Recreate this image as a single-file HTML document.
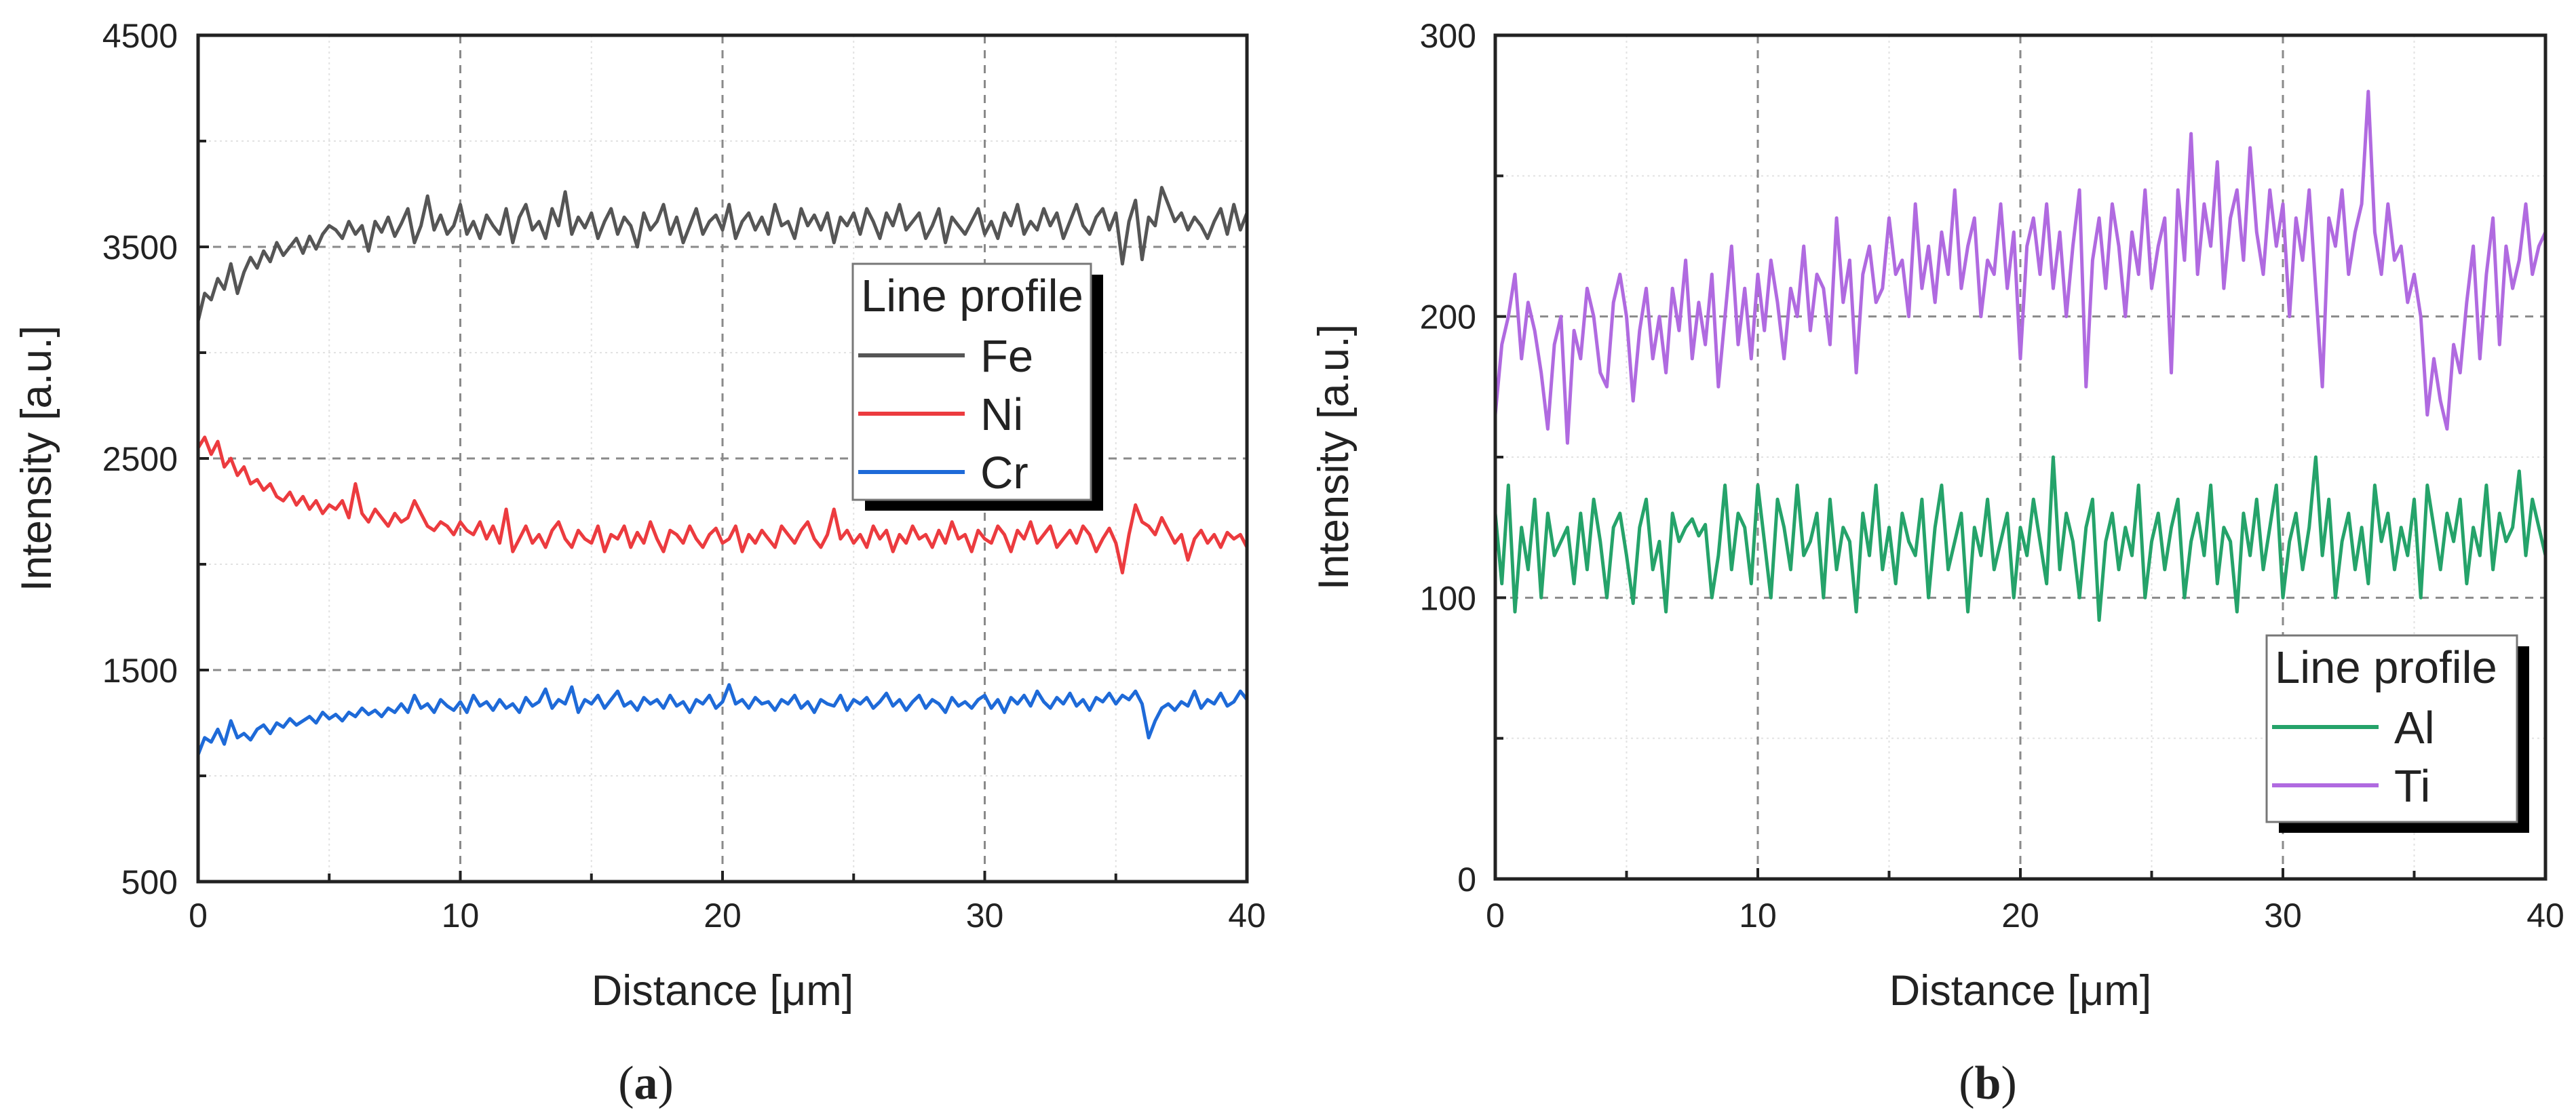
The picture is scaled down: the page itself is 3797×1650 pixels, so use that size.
<!DOCTYPE html>
<html><head><meta charset="utf-8"><style>
html,body{margin:0;padding:0;background:#fff;}
svg{display:block;}
text{font-family:"Liberation Sans",sans-serif;fill:#222;}
</style></head><body>
<svg id="fig" width="3797" height="1650" viewBox="0 0 3797 1650" xmlns="http://www.w3.org/2000/svg">
<rect x="0" y="0" width="3797" height="1650" fill="#fff"/>
</svg>
<script>
// ---- data ----
const xStep = 0.25;
const xTicksLabels = ["0","10","20","30","40"];
const xTickValues = [0,10,20,30,40];
const yTicksA = [500,1500,2500,3500,4500];
const yTicksB = [0,100,200,300];
const feValues = [3150,3280,3250,3350,3300,3420,3280,3380,3450,3400,3480,3430,3520,3460,3500,3540,3470,3550,3490,3560,3600,
3580,3540,3620,3560,3600,3480,3620,3570,3640,3550,3610,3680,3520,3600,3740,3580,3650,3560,3600,3700,
3560,3620,3540,3650,3600,3560,3680,3520,3640,3700,3580,3620,3540,3680,3600,3760,3560,3640,3590,3660,
3540,3620,3680,3560,3640,3600,3500,3660,3580,3620,3700,3560,3640,3520,3600,3680,3560,3620,3650,3580,
3700,3540,3620,3660,3580,3640,3560,3700,3600,3620,3540,3680,3600,3650,3580,3660,3520,3640,3600,3660,
3560,3680,3620,3540,3660,3600,3700,3580,3620,3660,3540,3600,3680,3520,3640,3600,3560,3620,3680,3560,
3620,3540,3660,3600,3700,3560,3620,3580,3680,3600,3660,3540,3620,3700,3600,3560,3640,3680,3580,3660,
3420,3620,3720,3440,3640,3600,3780,3700,3620,3660,3580,3640,3600,3540,3620,3680,3560,3700,3580,3660];
const niValues = [2550,2600,2520,2580,2460,2500,2420,2460,2380,2400,2350,2380,2320,2300,2340,2280,2320,2260,2300,2240,2280,
2260,2300,2220,2380,2240,2200,2260,2220,2180,2240,2200,2220,2300,2240,2180,2160,2200,2180,2140,2200,
2160,2140,2200,2120,2180,2100,2260,2060,2120,2180,2100,2140,2080,2160,2200,2120,2080,2160,2120,2100,
2180,2060,2140,2120,2180,2080,2150,2100,2200,2120,2060,2160,2140,2100,2180,2120,2080,2140,2170,2100,
2120,2180,2060,2140,2100,2160,2120,2080,2180,2140,2100,2160,2200,2120,2080,2140,2260,2120,2160,2100,
2140,2080,2180,2120,2160,2060,2140,2100,2180,2120,2140,2080,2160,2100,2200,2120,2140,2060,2160,2120,
2100,2180,2140,2060,2160,2120,2200,2100,2140,2180,2080,2120,2160,2100,2180,2140,2060,2120,2170,2100,
1960,2140,2280,2200,2180,2140,2220,2160,2100,2140,2020,2120,2160,2100,2140,2080,2150,2120,2140,2080];
const crValues = [1100,1180,1160,1220,1150,1260,1180,1200,1170,1220,1240,1200,1250,1230,1270,1240,1260,1280,1250,1300,1270,
1290,1260,1300,1280,1320,1290,1310,1280,1320,1300,1340,1300,1380,1320,1340,1300,1360,1330,1310,1350,
1300,1380,1330,1350,1310,1360,1320,1340,1300,1370,1330,1350,1410,1320,1360,1340,1420,1300,1360,1340,
1380,1320,1360,1400,1330,1350,1310,1370,1340,1360,1320,1380,1330,1350,1300,1360,1340,1380,1320,1350,
1430,1340,1360,1320,1370,1340,1350,1310,1360,1340,1380,1320,1350,1300,1360,1340,1330,1380,1310,1360,
1340,1370,1320,1350,1390,1330,1360,1310,1350,1380,1320,1360,1340,1300,1370,1330,1350,1320,1360,1380,
1320,1360,1300,1370,1340,1380,1330,1400,1350,1320,1370,1340,1390,1330,1360,1310,1370,1350,1390,1340,
1380,1360,1400,1340,1180,1260,1320,1340,1310,1350,1330,1400,1320,1360,1340,1390,1330,1350,1400,1360];
const alValues = [130,105,140,95,125,110,135,100,130,115,120,125,105,130,110,135,120,100,125,130,115,
98,125,135,110,120,95,130,120,125,128,122,126,100,115,140,110,130,125,105,140,
120,100,135,125,110,140,115,120,130,100,135,110,125,120,95,130,115,140,110,125,
105,130,120,115,135,100,125,140,110,120,130,95,125,115,135,110,120,130,100,125,
115,135,120,105,150,110,130,120,100,125,135,92,120,130,110,125,115,140,100,120,
130,110,125,135,100,120,130,115,140,105,125,120,95,130,115,135,110,125,140,100,
120,130,110,125,150,115,135,100,120,130,110,125,105,140,120,130,110,125,115,135,
100,140,125,110,130,120,135,105,125,115,140,110,130,120,125,145,115,135,125,115];
const tiValues = [165,190,200,215,185,205,195,180,160,190,200,155,195,185,210,200,180,175,205,215,200,
170,195,210,185,200,180,210,195,220,185,205,190,215,175,200,225,190,210,185,215,
195,220,205,185,210,200,225,195,215,210,190,235,205,220,180,215,225,205,210,235,
215,220,200,240,210,225,205,230,215,245,210,225,235,200,220,215,240,210,230,185,
225,235,215,240,210,230,200,225,245,175,220,235,210,240,225,200,230,215,245,210,
225,235,180,245,220,265,215,240,225,255,210,235,245,220,260,230,215,245,225,240,
200,235,220,245,210,175,235,225,245,215,230,240,280,230,215,240,220,225,205,215,
200,165,185,170,160,190,180,205,225,185,215,235,190,225,210,220,240,215,225,230];

// ---- rendering ----
const NS = "http://www.w3.org/2000/svg";
const svg = document.getElementById('fig');
function mk(tag, attrs, parent){
  const e = document.createElementNS(NS, tag);
  for (const k in attrs) e.setAttribute(k, attrs[k]);
  (parent||svg).appendChild(e);
  return e;
}
function panel(cfg){
  const g = mk('g', {});
  
  
  const xs = v => cfg.L + (v - 0) / 40 * (cfg.R - cfg.L);
  const ys = v => cfg.B - (v - cfg.ymin) / (cfg.ymax - cfg.ymin) * (cfg.B - cfg.T);
  // minor dotted grid
  for (let v = 5; v < 40; v += 10) {
    const l = mk('line', {x1:xs(v), x2:xs(v), y1:cfg.T, y2:cfg.B, stroke:'#e2e2e2', 'stroke-width':2, 'stroke-dasharray':'3 5'}, g);
    
    
  }
  for (let i = 0; i < cfg.yticks.length - 1; i++) {
    const v = (cfg.yticks[i] + cfg.yticks[i+1]) / 2;
    const l = mk('line', {x1:cfg.L, x2:cfg.R, y1:ys(v), y2:ys(v), stroke:'#e2e2e2', 'stroke-width':2, 'stroke-dasharray':'3 5'}, g);
    
    
  }
  // major dashed grid
  for (const v of [10,20,30]) {
    const l = mk('line', {x1:xs(v), x2:xs(v), y1:cfg.T, y2:cfg.B, stroke:'#8a8a8a', 'stroke-width':3, 'stroke-dasharray':'12 10'}, g);
    
    
  }
  for (const v of cfg.yticks.slice(1, -1)) {
    const l = mk('line', {x1:cfg.L, x2:cfg.R, y1:ys(v), y2:ys(v), stroke:'#8a8a8a', 'stroke-width':3, 'stroke-dasharray':'12 10'}, g);
    
    
  }
  // series
  for (const s of cfg.series) {
    let d = '';
    s.values.forEach((v, i) => { d += (i ? 'L' : 'M') + xs(i * xStep).toFixed(1) + ' ' + ys(v).toFixed(1); });
    const p = mk('path', {d:d, fill:'none', stroke:s.color, 'stroke-width':5, 'stroke-linejoin':'round'}, g);
    
    
  }
  // frame
  const fr = mk('rect', {x:cfg.L, y:cfg.T, width:cfg.R - cfg.L, height:cfg.B - cfg.T, fill:'none', stroke:'#222', 'stroke-width':5}, g);
  
  
  // x ticks
  for (let v = 0; v <= 40; v += 5) {
    const len = (v % 10 === 0) ? 16 : 12;
    mk('line', {x1:xs(v), x2:xs(v), y1:cfg.B, y2:cfg.B - len, stroke:'#222', 'stroke-width':4}, g);
  }
  xTickValues.forEach((v, i) => {
    const t = mk('text', {x:xs(v), y:1367, 'font-size':50, 'text-anchor':'middle'}, g);
    t.textContent = xTicksLabels[i];
    
    
  });
  // y ticks
  for (let i = 0; i < cfg.yticks.length; i++) {
    const v = cfg.yticks[i];
    mk('line', {x1:cfg.L, x2:cfg.L + 16, y1:ys(v), y2:ys(v), stroke:'#222', 'stroke-width':4}, g);
    if (i < cfg.yticks.length - 1) {
      const m = (v + cfg.yticks[i+1]) / 2;
      mk('line', {x1:cfg.L, x2:cfg.L + 12, y1:ys(m), y2:ys(m), stroke:'#222', 'stroke-width':4}, g);
    }
    const t = mk('text', {x:cfg.labelRight, y:ys(v) + 18, 'font-size':50, 'text-anchor':'end'}, g);
    t.textContent = String(v);
    
    
  }
  // axis titles
  const xt = mk('text', {x:(cfg.L + cfg.R) / 2, y:1482, 'font-size':63, 'text-anchor':'middle'}, g);
  xt.textContent = 'Distance [\u03bcm]';
  
  
  const yc = (cfg.T + cfg.B) / 2;
  const yt = mk('text', {x:cfg.titleX, y:yc, 'font-size':63, 'text-anchor':'middle', transform:'rotate(-90 ' + cfg.titleX + ' ' + yc + ')'}, g);
  yt.textContent = 'Intensity [a.u.]';
  
  
  // legend
  const lg = cfg.legend;
  const lgG = mk('g', {}, g);
  
  
  mk('rect', {x:lg.x + 18, y:lg.y + 16, width:lg.w, height:lg.h, fill:'#000'}, lgG);
  mk('rect', {x:lg.x, y:lg.y, width:lg.w, height:lg.h, fill:'#fff', stroke:'#777', 'stroke-width':3}, lgG);
  const tt = mk('text', {x:lg.x + 12, y:lg.y + 70, 'font-size':67, fill:'#111'}, lgG);
  tt.textContent = 'Line profile';
  
  
  lg.order.forEach((s, i) => {
    const yy = lg.y + 135 + i * 86;
    const ln = mk('line', {x1:lg.x + 8, x2:lg.x + 165, y1:yy, y2:yy, stroke:s.color, 'stroke-width':6}, lgG);
    
    
    const tx = mk('text', {x:lg.x + 188, y:yy + 24, 'font-size':67, fill:'#111'}, lgG);
    tx.textContent = s.label;
    
    
  });
  // panel letter
  const pl = mk('text', {x:cfg.letterX, y:1620, 'font-size':70, 'text-anchor':'middle', style:'font-family:"Liberation Serif",serif'}, g);
  pl.innerHTML = '(<tspan font-weight="bold">' + cfg.letter + '</tspan>)';
  
  
}
const fe = {label:'Fe', values:feValues, color:'#555555'};
const ni = {label:'Ni', values:niValues, color:'#ec3b3f'};
const cr = {label:'Cr', values:crValues, color:'#1e6ad8'};
const al = {label:'Al', values:alValues, color:'#25a36a'};
const ti = {label:'Ti', values:tiValues, color:'#b06ae0'};
panel({name:'panel-a', L:292, R:1838, T:52, B:1300, ymin:500, ymax:4500, yticks:yTicksA,
  labelRight:262, titleX:75, letter:'a', letterX:952,
  series:[fe, ni, cr],
  legend:{x:1257, y:389, w:351, h:348, order:[fe, ni, cr]}});
panel({name:'panel-b', L:2204, R:3752, T:52, B:1296, ymin:0, ymax:300, yticks:yTicksB,
  labelRight:2176, titleX:1987, letter:'b', letterX:2930,
  series:[al, ti],
  legend:{x:3341, y:937, w:369, h:275, order:[al, ti]}});
</script>
</body></html>
